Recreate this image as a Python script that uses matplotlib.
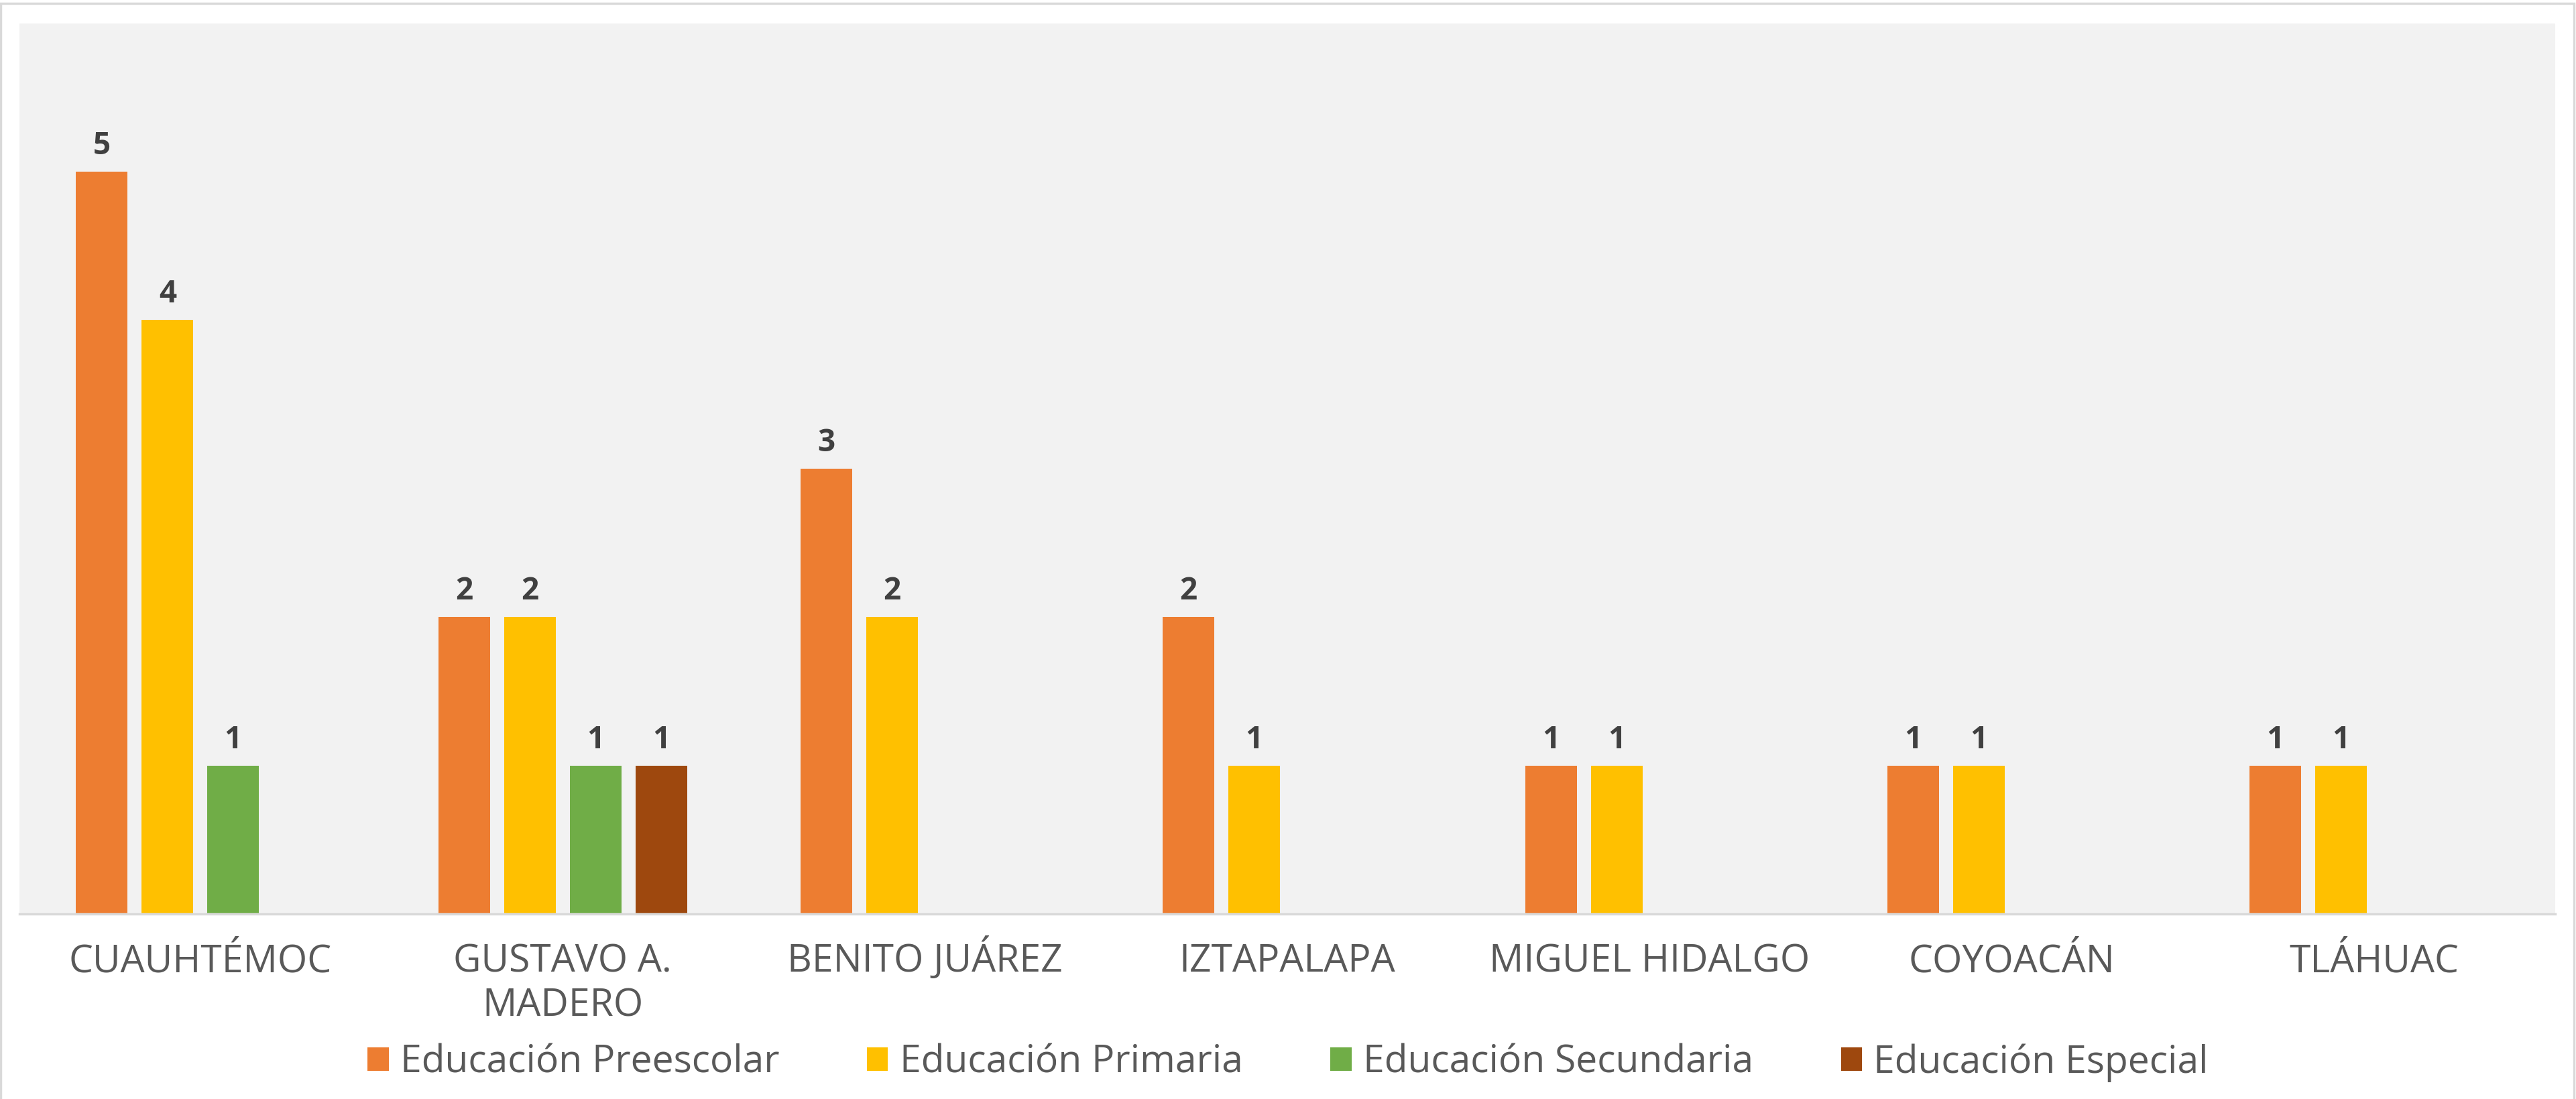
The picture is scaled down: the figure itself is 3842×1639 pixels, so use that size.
import numpy as np
import matplotlib
matplotlib.use("Agg")
import matplotlib.pyplot as plt
from matplotlib.patches import Patch, Rectangle

# data
alcaldias = ["CUAUHTÉMOC", "GUSTAVO A.\nMADERO", "BENITO JUÁREZ", "IZTAPALAPA",
             "MIGUEL HIDALGO", "COYOACÁN", "TLÁHUAC"]
series = ["Educación Preescolar", "Educación Primaria",
          "Educación Secundaria", "Educación Especial"]
preescolar = [5, 2, 3, 2, 1, 1, 1]
primaria = [4, 2, 2, 1, 1, 1, 1]
secundaria = [1, 1, 0, 0, 0, 0, 0]
especial = [0, 1, 0, 0, 0, 0, 0]
colors = ["#ED7D31", "#FFC000", "#70AD47", "#9E480E"]

plt.rcParams["font.family"] = ["Open Sans", "DejaVu Sans"]

W, H = 3842, 1639
fig = plt.figure(figsize=(W / 100, H / 100), dpi=100)
fig.patch.set_facecolor("white")

# plot area
ax = fig.add_axes([28.7 / W, 1 - 1363 / H, (3811 - 28.7) / W, (1363 - 34.7) / H])
ax.set_facecolor("#F2F2F2")

x = np.arange(len(alcaldias))
step = 0.1814
width = 0.1425
for i, (vals, name, c) in enumerate(zip([preescolar, primaria, secundaria, especial], series, colors)):
    pos = x + (i - 1.5) * step
    bars = ax.bar(pos, vals, width=width, color=c, label=name, zorder=2)
    for b, v in zip(bars, vals):
        if v > 0:
            ax.annotate(str(v), (b.get_x() + b.get_width() / 2, v),
                        xytext=(0, 18.7), textcoords="offset points",
                        ha="center", va="baseline", fontsize=33,
                        fontweight="bold", color="#404040")

ax.set_xlim(-0.5, len(alcaldias) - 0.5)
ax.set_ylim(0, 6)
ax.set_yticks([])
ax.set_xticks([])
for s in ["top", "left", "right"]:
    ax.spines[s].set_visible(False)
ax.spines["bottom"].set_color("#D9D9D9")
ax.spines["bottom"].set_linewidth(2.5)

# category labels, one text per line so baselines stay put
plot_h = 1363 - 34.7
for xi, lab in zip(x, alcaldias):
    for k, line in enumerate(lab.split("\n")):
        ax.text(xi, (-86 - 66 * k) / plot_h, line, transform=ax.get_xaxis_transform(),
                ha="center", va="baseline", fontsize=41, color="#595959",
                clip_on=False)

handles = [Patch(facecolor=c, edgecolor="none") for c in colors]
fig.legend(handles, series, loc="center", bbox_to_anchor=(0.5, 1 - 1585 / H),
           ncol=4, frameon=False, fontsize=41, labelcolor="#595959",
           handlelength=0.55, handleheight=0.55, handletextpad=0.3,
           columnspacing=2.3)

# outer frame of the chart
fig.add_artist(Rectangle((1 / W, -0.01), (3839 - 1) / W, 1 - 5 / H + 0.01,
                         transform=fig.transFigure, fill=False,
                         edgecolor="#D9D9D9", linewidth=2.5))

fig.savefig("out.png", dpi=100, facecolor="white")
